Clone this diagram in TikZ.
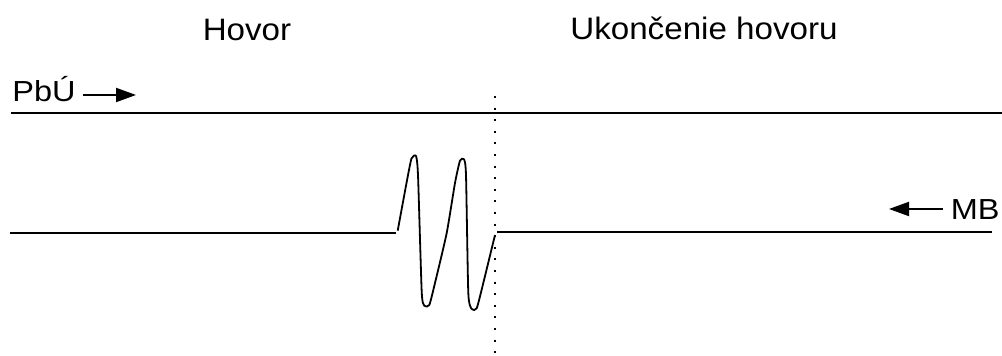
\documentclass[tikz,border=0pt]{standalone}
\usepackage{fontspec}
\setmainfont{Liberation Sans}
\usetikzlibrary{arrows.meta,positioning}
\definecolor{Ink}{HTML}{000000}
\tikzset{
  heading/.style={font=\fontsize{15.5}{18}\selectfont,text=Ink,inner sep=0pt,anchor=base,xscale=1.07,transform shape},
  sidelabel/.style={font=\fontsize{14.5}{16}\selectfont,text=Ink,inner sep=0pt,xscale=1.12,transform shape},
  signal/.style={draw=Ink,line width=1pt},
  wave/.style={draw=Ink,line width=.9pt,line join=round},
  cut/.style={draw=Ink,line width=1pt,dash pattern=on 1pt off 4.8pt},
  dirarrow/.style={-{Triangle[length=10pt,width=7pt]},draw=Ink,line width=1pt}
}
\begin{document}
\begin{tikzpicture}[x=0.5pt,y=-0.5pt]
  \useasboundingbox (0,0) rectangle (1002,356);
  % headings
  \node[heading] (call) at (247,41) {Hovor};
  \node[heading] (endcall) at (704,40) {Ukončenie hovoru};
  % direction labels
  \node[sidelabel,anchor=base west] (pbu) at (12,102) {PbÚ};
  \node[sidelabel,anchor=base east] (mb) at (1000,220) {MB};
  \coordinate (pbutail) at (83,95);
  \coordinate (pbuhead) at (136,95);
  \coordinate (mbtail) at (943,209);
  \coordinate (mbhead) at (889,209);
  \draw[dirarrow] (pbutail) -- (pbuhead);
  \draw[dirarrow] (mbtail) -- (mbhead);
  % lines
  \coordinate (upleft) at (11,113);
  \coordinate (upright) at (1002,113);
  \coordinate (lowleft) at (10,233);
  \coordinate (lowmid) at (396,233);
  \coordinate (lowgo) at (497,232);
  \coordinate (lowright) at (992,232);
  \draw[signal] (upleft) -- (upright);
  \draw[signal] (lowleft) -- (lowmid);
  \draw[signal] (lowgo) -- (lowright);
  % boundary
  \coordinate (cuttop) at (495,96);
  \coordinate (cutbottom) at (495,354);
  \draw[cut] (cuttop) -- (cutbottom);
  % burst
  \draw[wave] plot[smooth,tension=0.35] coordinates {
    (397.7,230.7) (406.7,182) (411.5,158.5) (416,156) (418,175)
    (421.7,291.7) (424.3,305.7) (429.3,305) (435,283) (446.7,233)
    (455,183) (460,160.7) (464,159.3) (466,175) (468.3,293)
    (471.7,309) (476.7,308.3) (483.3,283) (495,235)};
\end{tikzpicture}
\end{document}
